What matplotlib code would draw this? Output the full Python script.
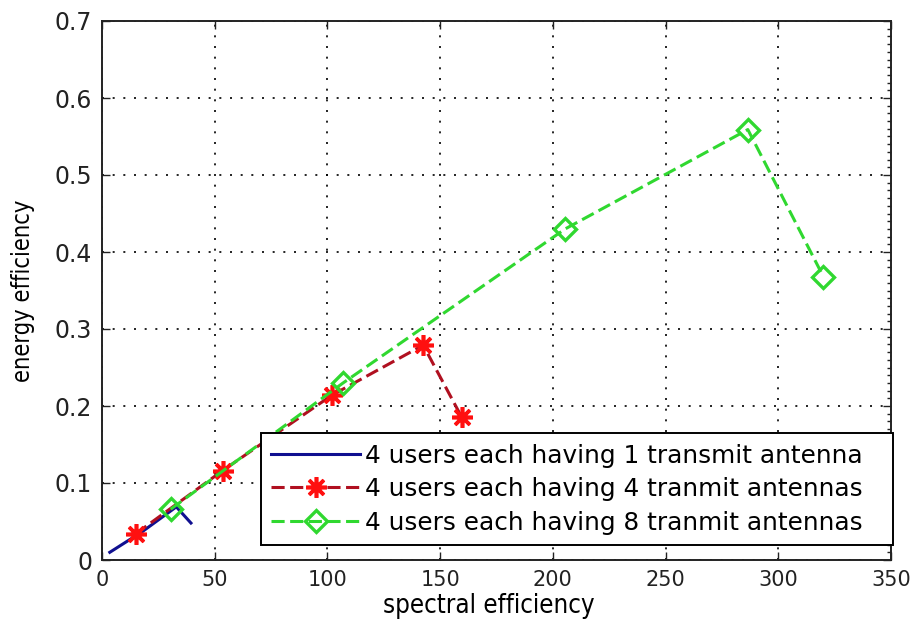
import matplotlib
matplotlib.use("Agg")
import matplotlib.pyplot as plt
from matplotlib.ticker import MultipleLocator

# Spectral efficiency (x) and energy efficiency (y) for each antenna setup
se_1ant = [3.5, 18.0, 33.0, 39.5]
ee_1ant = [0.010, 0.037, 0.069, 0.048]

se_4ant = [15.0, 53.5, 102.0, 142.5, 159.5]
ee_4ant = [0.034, 0.116, 0.214, 0.279, 0.186]

se_8ant = [30.5, 107.0, 205.5, 286.5, 320.0]
ee_8ant = [0.066, 0.230, 0.430, 0.559, 0.368]

labels = [
    "4 users each having 1 transmit antenna",
    "4 users each having 4 tranmit antennas",
    "4 users each having 8 tranmit antennas",
]

x_ticks = [0, 50, 100, 150, 200, 250, 300, 350]
y_ticks = [0, 0.1, 0.2, 0.3, 0.4, 0.5, 0.6, 0.7]

plt.rcParams["font.family"] = ["DejaVu Sans"]

fig = plt.figure(figsize=(9.18, 6.25), dpi=100)
ax = fig.add_axes([0.111, 0.104, 0.8596, 0.8624])

dash = (0, (4.3, 1.8))
ax.plot(se_1ant, ee_1ant, color="#101090", lw=2.2, label=labels[0])
ax.plot(se_4ant, ee_4ant, color="#b01020", lw=2.2, linestyle=dash,
        marker=(8, 2, 0), markersize=15, markeredgewidth=2.6,
        markerfacecolor="#ff1010", markeredgecolor="#ff1010",
        label=labels[1])
ax.plot(se_8ant, ee_8ant, color="#30d830", lw=2.2, linestyle=dash,
        marker="D", markersize=11, markerfacecolor="none",
        markeredgewidth=2.4, markeredgecolor="#30d830", label=labels[2])

ax.set_xlim(0, 350)
ax.set_ylim(0, 0.7)
ax.set_xticks(x_ticks)
ax.set_yticks(y_ticks)
ax.set_xticklabels([str(t) for t in x_ticks], fontsize=15)
ax.set_yticklabels(["0" if t == 0 else f"{t:.1f}" for t in y_ticks],
                   fontsize=17)
ax.yaxis.set_minor_locator(MultipleLocator(0.01))
ax.tick_params(which="major", direction="in", top=True, right=True,
               length=6, width=1, pad=7, colors="#222222")
ax.tick_params(which="minor", direction="in", left=False, right=True,
               length=3, width=1, colors="#222222")
ax.grid(True, which="major", color="black", linestyle=(0, (1.2, 5.2)),
        linewidth=1.2)
for s in ax.spines.values():
    s.set_linewidth(1.4)
    s.set_color("#222222")

ax.set_xlabel("spectral efficiency", fontsize=18.5, fontstretch="condensed")
ax.xaxis.set_label_coords(0.49, -0.062, transform=ax.transAxes)
ax.xaxis.label.set_verticalalignment("top")
ax.set_ylabel("energy efficiency", fontsize=17, fontstretch="condensed",
              labelpad=14)

leg = ax.legend(loc="lower left", bbox_to_anchor=(0.2015, 0.028, 0.8015, 0.2),
                mode="expand", fontsize=17.8, frameon=True, fancybox=False,
                edgecolor="black", framealpha=1, handlelength=3.6,
                borderpad=0.42, labelspacing=0.38, handletextpad=0.2,
                borderaxespad=0.0)
leg.get_frame().set_linewidth(1.4)

fig.savefig("out.png", dpi=100, facecolor="white")
